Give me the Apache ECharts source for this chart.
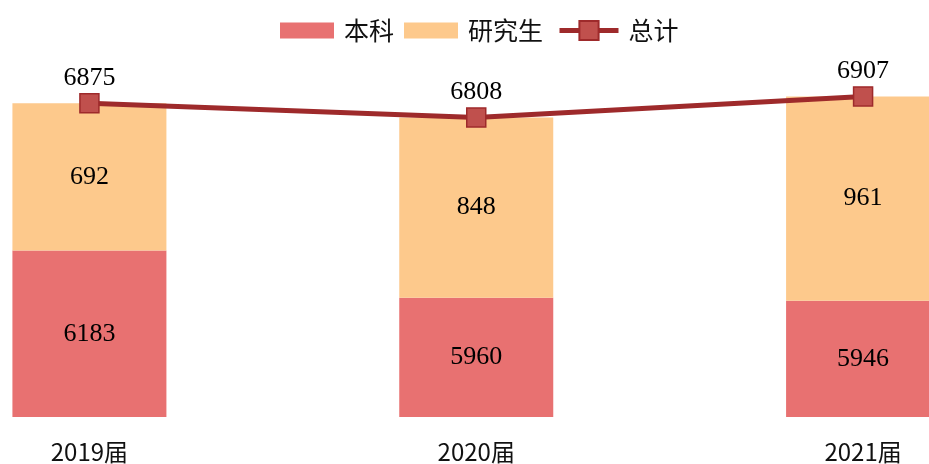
<!DOCTYPE html>
<html>
<head>
<meta charset="utf-8">
<script src="https://cdn.jsdelivr.net/npm/echarts@6/dist/echarts.min.js"></script>
<style>html,body{margin:0;padding:0;background:#fff}#c{width:929px;height:464px}</style>
</head>
<body>
<div id="c"></div>
<script>
const categories = ['2019届', '2020届', '2021届'];
const undergrad = [6183, 5960, 5946];
const graduate = [692, 848, 961];
const total = [6875, 6808, 6907];
const seriesNames = ['本科', '研究生', '总计'];

const chart = echarts.init(document.getElementById('c'), null, {renderer: 'canvas'});
const numFont = {fontFamily: 'Liberation Serif', fontSize: 26, color: '#000'};
const legendText = {fontFamily: 'Noto Sans CJK SC', fontSize: 25, color: '#111', padding: [0, 0, 0, 5]};
chart.setOption({
  animation: false,
  backgroundColor: '#fff',
  legend: [
    {
      left: 275, top: 13,
      itemWidth: 54, itemHeight: 16, itemGap: 10,
      textStyle: legendText,
      data: [
        {name: seriesNames[0], icon: 'rect'},
        {name: seriesNames[1], icon: 'rect'}
      ]
    },
    {
      left: 552, top: 13,
      itemWidth: 59, itemHeight: 24,
      lineStyle: {width: 5},
      textStyle: legendText,
      data: [{name: seriesNames[2]}]
    }
  ],
  grid: {left: -104, right: -127.5, top: 76.6, bottom: 47, outerBoundsMode: 'none'},
  xAxis: {
    type: 'category', data: categories, boundaryGap: true,
    axisLine: {show: false}, axisTick: {show: false},
    axisLabel: {fontFamily: 'Noto Sans CJK SC', fontSize: 24, color: '#111', margin: 23}
  },
  yAxis: {type: 'value', min: 5400, max: 7000, show: false, splitLine: {show: false}},
  series: [
    {
      name: seriesNames[0], type: 'bar', stack: 'a', barWidth: 154, data: undergrad,
      itemStyle: {color: '#E87171'},
      label: Object.assign({show: true, position: 'inside'}, numFont)
    },
    {
      name: seriesNames[1], type: 'bar', stack: 'a', barWidth: 154, data: graduate,
      itemStyle: {color: '#FDC98C'},
      label: Object.assign({show: true, position: 'inside'}, numFont)
    },
    {
      name: seriesNames[2], type: 'line', data: total,
      symbol: 'rect', symbolSize: 19,
      lineStyle: {color: '#9E2A2B', width: 5},
      itemStyle: {color: '#C0504D', borderColor: '#9E2A2B', borderWidth: 1.5},
      label: Object.assign({show: true, position: 'top', distance: 2}, numFont),
      z: 5
    }
  ]
});
</script>
</body>
</html>
